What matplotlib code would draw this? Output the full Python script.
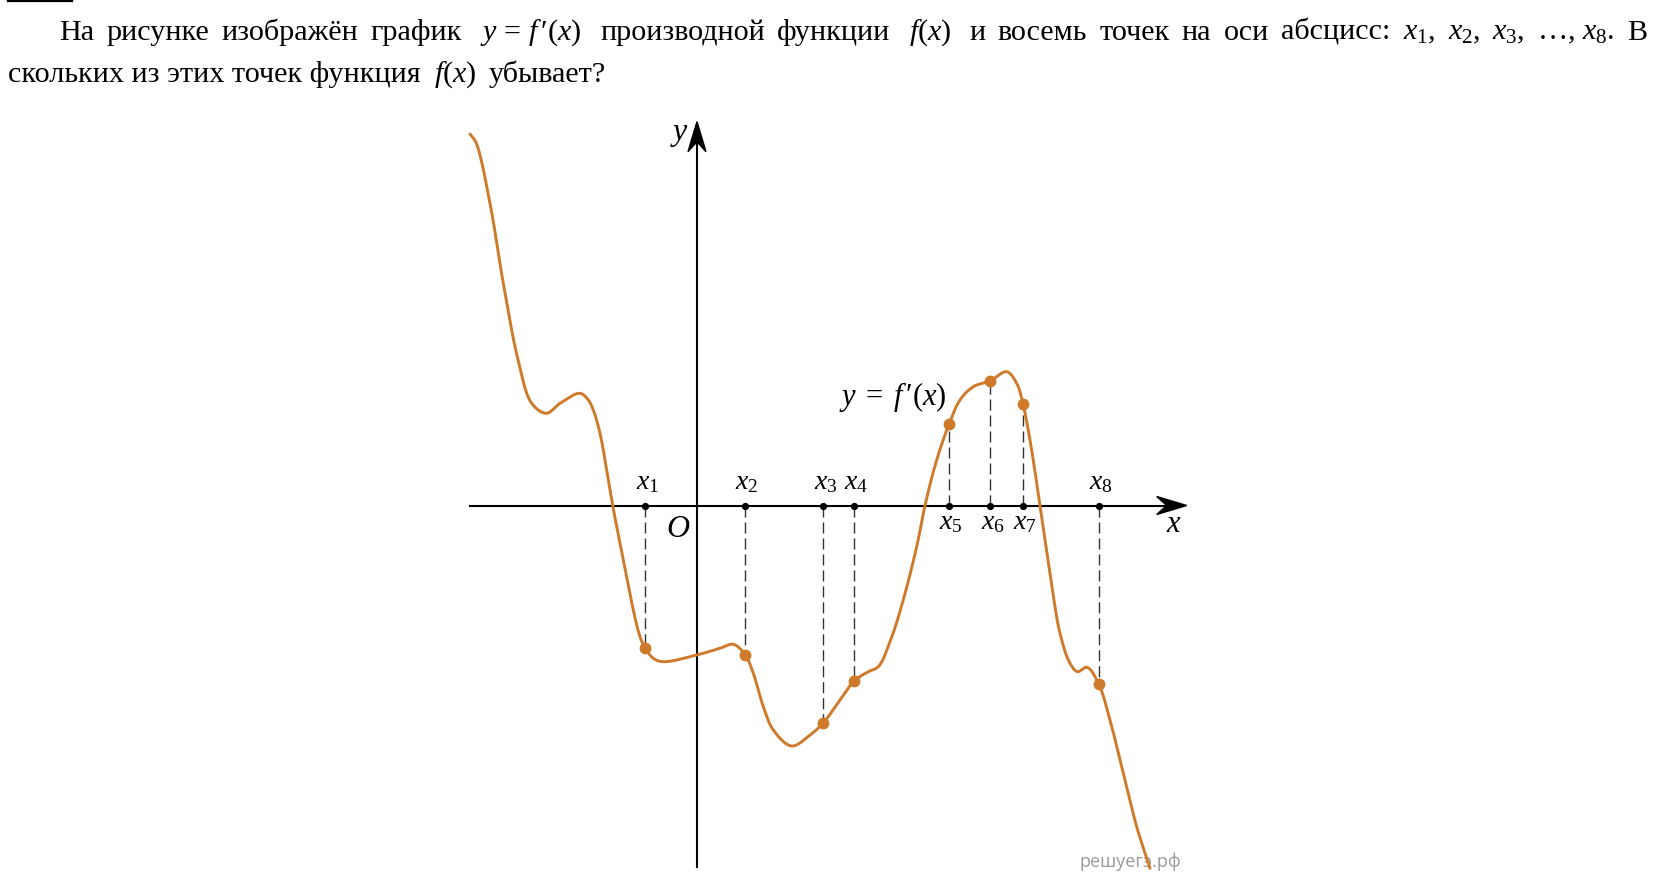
import numpy as np
import matplotlib
matplotlib.use('Agg')
import matplotlib.pyplot as plt
from matplotlib.transforms import IdentityTransform
from matplotlib.patches import Polygon
from matplotlib.lines import Line2D

plt.rcParams['mathtext.fontset'] = 'custom'
plt.rcParams['mathtext.rm'] = 'Liberation Serif'
plt.rcParams['mathtext.it'] = 'Liberation Serif:italic'
plt.rcParams['mathtext.bf'] = 'Liberation Serif:bold'
plt.rcParams['font.family'] = ['Liberation Serif', 'DejaVu Serif']

W, H = 1674, 886

# ---- data (units: 1 = 10 px of the picture, origin at O) ----
curve_x = [-22.7, -22.1, -20.7, -19.37, -17.9, -16.53,
           -15.07, -13.7, -11.7, -10.87, -10.37, -9.7, -9.03, -8.43, -7.7, -7.03,
           -6.37, -5.7, -4.37, -3.4, -0.03, 2.3, 3.63, 5.63, 6.63, 7.63,
           9.47, 11.3, 14.3, 17.13, 18.13, 19.3, 20.5, 21.97, 22.8,
           23.97, 26.3, 27.63, 30.97, 31.97, 33.3, 34.3, 35.3, 36.3, 37.3,
           38.05, 39.0, 41.3, 42.63, 43.97, 45.3]
curve_y = [37.15, 36.3, 30.22, 22.22, 14.6, 10.22,
           9.22, 10.22, 11.22, 10.55, 9.55, 7.22, 3.55, 0.0, -3.78, -7.12,
           -10.45, -13.12, -15.28, -15.62, -14.95, -14.28, -13.88, -16.78, -20.12, -22.45,
           -24.05, -22.95, -19.45, -16.62, -16.12, -13.62, -9.9, -4.12, 0.0,
           4.55, 10.55, 11.88, 13.38, 12.22, 6.55, 0.0, -6.78, -12.78, -15.78,
           -16.62, -16.18, -21.45, -26.78, -32.12, -36.28]

point_x = [-5.17, 4.8, 12.65, 15.75, 25.2, 29.35, 32.6, 40.17]
point_y = [-14.28, -14.9, -21.72, -17.52, 8.12, 12.48, 10.15, -17.85]
point_labels = ['$x_1$', '$x_2$', '$x_3$', '$x_4$', '$x_5$', '$x_6$', '$x_7$', '$x_8$']
label_above = [True, True, True, True, False, False, False, True]

x_axis_range = (-22.7, 48.97)
y_axis_range = (-36.15, 38.38)

line1_words = ['На', 'рисунке', 'изображён', 'график', r"$y\,=\,f\,\prime(x)$", 'производной',
               'функции', r'$f(x)$', 'и', 'восемь', 'точек', 'на', 'оси', 'абсцисс:',
               r'$x_1$,', r'$x_2$,', r'$x_3$,', r'…, $x_8$.', 'В']
line2_parts = ['скольких из этих точек функция', r'$f(x)$', 'убывает?']

ORANGE = '#CF7A2A'


def catmull_rom(px, py, n_per=60, alpha=0.5):
    P = np.column_stack([px, py]).astype(float)
    P = np.vstack([2 * P[0] - P[1], P, 2 * P[-1] - P[-2]])
    out = []
    for i in range(1, len(P) - 2):
        p0, p1, p2, p3 = P[i - 1], P[i], P[i + 1], P[i + 2]
        t0 = 0.0
        t1 = t0 + np.linalg.norm(p1 - p0) ** alpha
        t2 = t1 + np.linalg.norm(p2 - p1) ** alpha
        t3 = t2 + np.linalg.norm(p3 - p2) ** alpha
        t = np.linspace(t1, t2, n_per)[:, None]
        a1 = (t1 - t) / (t1 - t0) * p0 + (t - t0) / (t1 - t0) * p1
        a2 = (t2 - t) / (t2 - t1) * p1 + (t - t1) / (t2 - t1) * p2
        a3 = (t3 - t) / (t3 - t2) * p2 + (t - t2) / (t3 - t2) * p3
        b1 = (t2 - t) / (t2 - t0) * a1 + (t - t0) / (t2 - t0) * a2
        b2 = (t3 - t) / (t3 - t1) * a2 + (t - t1) / (t3 - t1) * a3
        c = (t2 - t) / (t2 - t1) * b1 + (t - t1) / (t2 - t1) * b2
        out.append(c if i == 1 else c[1:])
    c = np.vstack(out)
    return c[:, 0], c[:, 1]


fig = plt.figure(figsize=(W / 100, H / 100), dpi=100)
ax = fig.add_axes([0, 0, 1, 1])
ax.set_xlim(-69.7, 97.7)
ax.set_ylim(-38.05, 50.55)
ax.axis('off')

# axes
ax.plot([x_axis_range[0], x_axis_range[1] - 2.0], [0, 0], color='k', lw=1.5, zorder=2)
ax.plot([0, 0], [y_axis_range[0], y_axis_range[1] - 2.0], color='k', lw=1.5, zorder=2)
L, w, n = 3.0, 0.9, 1.0
tx = x_axis_range[1]
ax.add_patch(Polygon([(tx, 0), (tx - L, w), (tx - L + n, 0), (tx - L, -w)],
                     closed=True, color='k', zorder=3))
ty = y_axis_range[1]
ax.add_patch(Polygon([(0, ty), (w, ty - L), (0, ty - L + n), (-w, ty - L)],
                     closed=True, color='k', zorder=3))

# curve
kx = np.array(curve_x + point_x)
ky = np.array(curve_y + point_y)
order = np.argsort(kx)
kx, ky = kx[order], ky[order]
cx, cy = catmull_rom(kx, ky)
ax.plot(cx, cy, color=ORANGE, lw=2.1, zorder=4, solid_capstyle='round',
        solid_joinstyle='round')

# dashed drop lines, points
for px_, py_ in zip(point_x, point_y):
    ax.plot([px_, px_], [0, py_], color='#333333', lw=1.0,
            linestyle=(0, (8, 3.5)), zorder=1)
ax.plot(point_x, [0] * len(point_x), 'o', color='k', ms=4.2, zorder=5)
ax.plot(point_x, point_y, 'o', color=ORANGE, ms=7.5, zorder=6)

for px_, lab, above in zip(point_x, point_labels, label_above):
    ax.text(px_ + 0.2, 1.6 if above else -2.35, lab, fontsize=20, ha='center',
            va='baseline')

ax.text(-1.75, 36.58, 'y', fontsize=23, style='italic', ha='center', va='baseline')
ax.text(47.6, -2.62, 'x', fontsize=22, style='italic', ha='center', va='baseline')
ax.text(-1.87, -3.12, 'O', fontsize=23, style='italic', ha='center', va='baseline')
ax.text(25.0, 10.05, r"$y\;=\;f\,\prime(x)$", fontsize=22, ha='right', va='baseline')

ax.text(43.3, -36.12, 'решуегэ.рф', fontsize=13, color='#9a9a9a', ha='center',
        va='baseline', family=['Open Sans', 'DejaVu Sans'], zorder=0)

# ---- top text ----
FS = 21.7
ident = IdentityTransform()
t1 = [fig.text(0, H - 39.5, wd, fontsize=FS, transform=ident, va='baseline')
      for wd in line1_words]
t2 = [fig.text(0, H - 82, wd, fontsize=FS, transform=ident, va='baseline')
      for wd in line2_parts]
fig.canvas.draw()
r = fig.canvas.get_renderer()
widths = [t.get_window_extent(r).width for t in t1]
weights = []
for i in range(len(line1_words) - 1):
    a, b = line1_words[i], line1_words[i + 1]
    weights.append(1.5 if ('$' in a and 'x_' not in a) or ('$' in b and 'x_' not in b) else 1.0)
x0, x1 = 59, 1647
gap = (x1 - x0 - sum(widths)) / sum(weights)
cur = x0
for i, t in enumerate(t1):
    t.set_x(cur)
    cur += widths[i] + (gap * weights[i] if i < len(weights) else 0)

w2 = [t.get_window_extent(r).width for t in t2]
sp = 13
cur = 8
for i, t in enumerate(t2):
    t.set_x(cur)
    cur += w2[i] + sp

fig.add_artist(Line2D([8 / W, 72 / W], [1 - 1.2 / H, 1 - 1.2 / H], color='k', lw=1.6,
                      transform=fig.transFigure))

fig.savefig('out.png', dpi=100)
